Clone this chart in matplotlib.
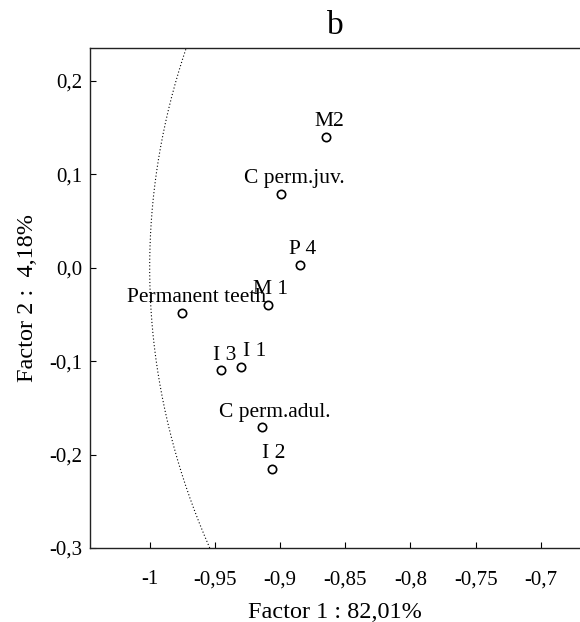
import numpy as np
import matplotlib
matplotlib.use("Agg")
from matplotlib import pyplot as plt

# data
labels = ["M2", "C perm.juv.", "P 4", "M 1", "Permanent teeth",
          "I 3", "I 1", "C perm.adul.", "I 2"]
factor1 = [-0.865, -0.8996, -0.885, -0.909, -0.975, -0.945, -0.930, -0.914, -0.9065]
factor2 = [0.140, 0.079, 0.003, -0.040, -0.048, -0.110, -0.106, -0.171, -0.215]
# horizontal shift of each label centre (points)
label_dx = [2.5, 10, 2.5, 1.4, 10, 2.2, 9.9, 9.6, 1.4]

xticks = [-1, -0.95, -0.9, -0.85, -0.8, -0.75, -0.7]
xticklabels = ["-1", "-0,95", "-0,9", "-0,85", "-0,8", "-0,75", "-0,7"]
yticks = [-0.3, -0.2, -0.1, 0.0, 0.1, 0.2]
yticklabels = ["-0,3", "-0,2", "-0,1", "0,0", "0,1", "0,2"]

plt.rcParams['font.family'] = ['Liberation Serif', 'DejaVu Serif']

fig = plt.figure(figsize=(5.8, 6.22), dpi=100)
ax = fig.add_axes([0.156, 0.119, 0.844, 0.804])

xmin, xmax = -1.0454, -0.670
ymin, ymax = -0.3, 0.2352

# unit circle arc
yy = np.linspace(ymin, ymax, 400)
ax.plot(-np.sqrt(1 - yy ** 2), yy, color="black", lw=0.8, linestyle=(0, (1, 2)))

ax.plot(factor1, factor2, linestyle="none", marker="o", markersize=6,
        markerfacecolor="white", markeredgecolor="black", markeredgewidth=1.2)

for lab, x, y, dx in zip(labels, factor1, factor2, label_dx):
    ax.annotate(lab, (x, y), xytext=(dx, 7.7), textcoords="offset points",
                ha="center", va="baseline", fontsize=15.5)

ax.set_xlim(xmin, xmax)
ax.set_ylim(ymin, ymax)
ax.set_xticks(xticks)
ax.set_xticklabels(xticklabels)
ax.set_yticks(yticks)
ax.set_yticklabels(yticklabels)
ax.tick_params(axis="x", direction="in", length=4, pad=16, labelsize=15)
ax.tick_params(axis="y", direction="in", length=4, pad=6, labelsize=15)

ax.spines["right"].set_visible(False)
for s in ["left", "top", "bottom"]:
    ax.spines[s].set_linewidth(1.0)
    ax.spines[s].set_color("#222222")

ax.set_xlabel("Factor 1 : 82,01%", fontsize=17.5, labelpad=9)
ax.set_ylabel("Factor 2 :  4,18%", fontsize=17.5, labelpad=8)
ax.set_title("b", fontsize=24, pad=10)

fig.savefig("out.png", dpi=100)
